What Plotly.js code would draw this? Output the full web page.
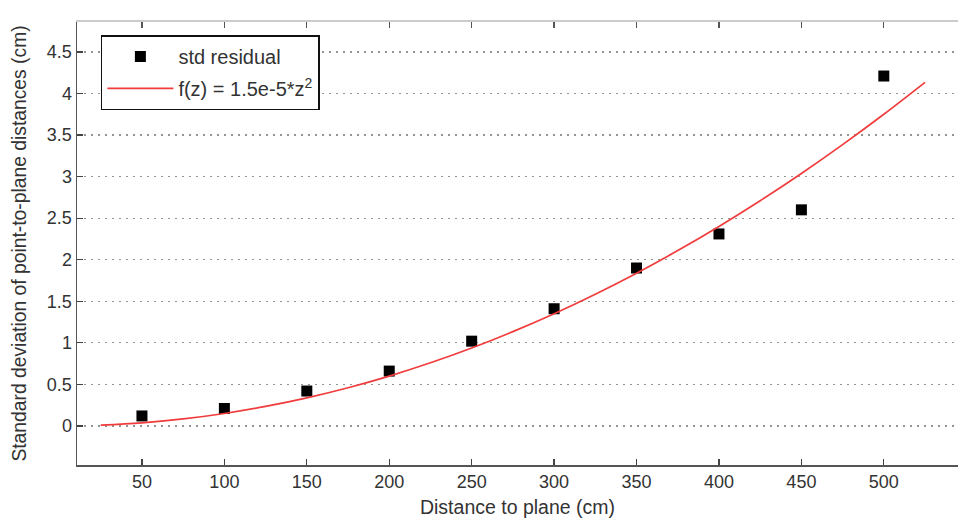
<!DOCTYPE html>
<html>
<head>
<meta charset="utf-8">
<script src="https://cdn.plot.ly/plotly-3.0.1.min.js"></script>
<style>html,body{margin:0;padding:0;background:#fff;}#chart{width:958px;height:522px;}</style>
</head>
<body>
<div id="chart"></div>
<script>
// Measured points (std residual)
const distances = [50, 100, 150, 200, 250, 300, 350, 400, 450, 500];
const stdResidual = [0.12, 0.21, 0.42, 0.66, 1.02, 1.41, 1.90, 2.31, 2.60, 4.21];

// Fitted curve f(z) = 1.5e-5*z^2, sampled values
const curveZ = [25, 50, 75, 100, 125, 150, 175, 200, 225, 250, 275, 300, 325, 350, 375, 400, 425, 450, 475, 500, 525];
const curveF = [0.0094, 0.0375, 0.0844, 0.15, 0.2344, 0.3375, 0.4594, 0.6, 0.7594, 0.9375, 1.1344, 1.35, 1.5844, 1.8375, 2.1094, 2.4, 2.7094, 3.0375, 3.3844, 3.75, 4.1344];

const xTicks = [50, 100, 150, 200, 250, 300, 350, 400, 450, 500];
const yTicks = [0, 0.5, 1, 1.5, 2, 2.5, 3, 3.5, 4, 4.5];
const yTickText = ['0', '0.5', '1', '1.5', '2', '2.5', '3', '3.5', '4', '4.5'];

const FONT = 'Liberation Sans, Arial, sans-serif';
const TXT = '#333333';

const traces = [
  {
    x: distances, y: stdResidual, type: 'scatter', mode: 'markers',
    name: 'std residual', legendgroup: 'a',
    marker: {symbol: 'square', size: 11, color: '#000000'}
  },
  {
    x: curveZ, y: curveF, type: 'scatter', mode: 'lines',
    name: 'f(z) = 1.5e-5*z<sup>2</sup>', legendgroup: 'b',
    line: {color: '#f03c3c', width: 1.7, shape: 'spline'}
  },
  {x: [], y: [], xaxis: 'x2', showlegend: false, hoverinfo: 'skip'}
];

const layout = {
  width: 958, height: 522,
  margin: {l: 77, r: 0, t: 22, b: 57},
  paper_bgcolor: '#ffffff', plot_bgcolor: '#ffffff',
  font: {family: FONT, size: 18, color: TXT},
  showlegend: true,
  legend: {
    x: 0.027, y: 0.97, xanchor: 'left', yanchor: 'top',
    bgcolor: '#ffffff', bordercolor: '#111111', borderwidth: 1.6,
    font: {family: FONT, size: 20, color: TXT},
    traceorder: 'grouped', tracegroupgap: 3, itemwidth: 66
  },
  xaxis: {
    range: [10.6, 545], tickvals: xTicks, ticktext: xTicks.map(String),
    ticks: 'inside', ticklen: 6, tickcolor: '#444', tickwidth: 1.2,
    showline: true, linecolor: '#555', linewidth: 1.5,
    showgrid: false, zeroline: false,
    tickfont: {size: 18, color: TXT},
    title: {text: 'Distance to plane (cm)', font: {size: 19.5, color: TXT}, standoff: 9}
  },
  xaxis2: {
    overlaying: 'x', side: 'top', anchor: 'y', matches: 'x',
    range: [10.6, 545], tickvals: xTicks,
    ticks: 'inside', ticklen: 6, tickcolor: '#555', tickwidth: 1.2,
    showticklabels: false, showline: true, linecolor: '#cccccc', linewidth: 2,
    showgrid: false, zeroline: false
  },
  yaxis: {
    range: [-0.47, 4.86], tickvals: yTicks, ticktext: yTickText,
    ticks: 'inside', ticklen: 6, tickcolor: '#444', tickwidth: 1.2,
    showline: true, linecolor: '#555', linewidth: 1.5,
    showgrid: true, gridcolor: '#949494', gridwidth: 1.3, griddash: '2px,5px',
    zeroline: false,
    tickfont: {size: 18, color: TXT},
    title: {text: 'Standard deviation of point-to-plane distances (cm)', font: {size: 19.3, color: TXT}, standoff: 15}
  }
};

Plotly.newPlot('chart', traces, layout, {displayModeBar: false, staticPlot: true});
</script>
</body>
</html>
